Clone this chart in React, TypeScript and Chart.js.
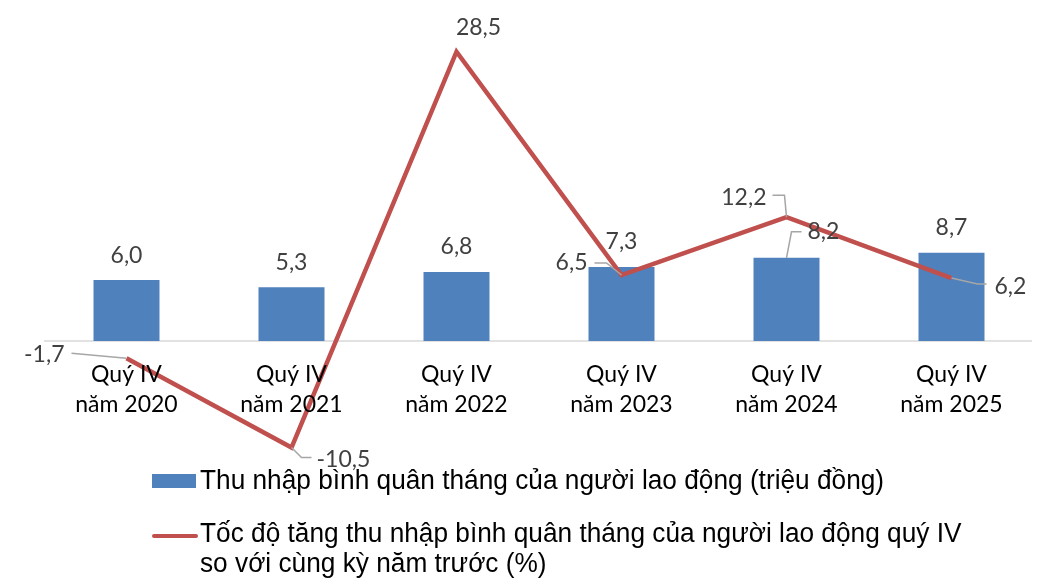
import { useEffect, useRef } from "react";
import { Chart, registerables } from "chart.js";

Chart.register(...registerables);

const categories: string[][] = [
  ["Quý IV", "năm 2020"],
  ["Quý IV", "năm 2021"],
  ["Quý IV", "năm 2022"],
  ["Quý IV", "năm 2023"],
  ["Quý IV", "năm 2024"],
  ["Quý IV", "năm 2025"],
];
const incomeValues = [6.0, 5.3, 6.8, 7.3, 8.2, 8.7];
const growthValues = [-1.7, -10.5, 28.5, 6.5, 12.2, 6.2];
const incomeLegend = "Thu nhập bình quân tháng của người lao động (triệu đồng)";
const growthLegend = [
  "Tốc độ tăng thu nhập bình quân tháng của người lao động quý IV",
  "so với cùng kỳ năm trước (%)",
];
const yMin = -12;
const yMax = 30;

const BAR_COLOR = "#4F81BD";
const LINE_COLOR = "#C0504D";
const LABEL_COLOR = "#404040";
const LEADER_COLOR = "#A6A6A6";
const LABEL_FONT = "23px Lato, Calibri, Carlito, sans-serif";
const CAT_FONT = "23px Lato, Calibri, Carlito, sans-serif";
const LEGEND_FONT = "27px 'Liberation Sans Narrow', 'Arial Narrow', 'Liberation Sans', Arial, sans-serif";
const LEGEND_SCALE_X = 0.972;

type Placement = {
  dx: number;
  dy: number;
  align: CanvasTextAlign;
  leader?: number[][];
};

// label placements relative to the point (offsets only)
const growthPlacements: Placement[] = [
  { dx: -62, dy: -4, align: "right", leader: [[0, 0], [-55, -5]] },
  { dx: 25, dy: 12, align: "left", leader: [[0, 0], [10, 10], [20, 10]] },
  { dx: 22, dy: -24, align: "center" },
  { dx: -34, dy: -12, align: "right", leader: [[0, 0], [-15, -12], [-27, -12]] },
  { dx: -20, dy: -20, align: "right", leader: [[0, 0], [-2, -22], [-14, -22]] },
  { dx: 43, dy: 9, align: "left", leader: [[0, 0], [26, 6], [35, 6]] },
];
const incomePlacements: Placement[] = [
  { dx: 0, dy: -25, align: "center" },
  { dx: 0, dy: -25, align: "center" },
  { dx: 0, dy: -25, align: "center" },
  { dx: 0, dy: -25, align: "center" },
  { dx: 21, dy: -26, align: "left", leader: [[0, 0], [5, -26], [15, -26]] },
  { dx: 0, dy: -25, align: "center" },
];

const fmt = (v: number) => v.toFixed(1).replace(".", ",");

const overlayPlugin = {
  id: "overlay",
  beforeDatasetsDraw(chart: any) {
    const { ctx, chartArea, scales } = chart;
    const y0 = scales.y.getPixelForValue(0);
    ctx.save();
    ctx.strokeStyle = "#D9D9D9";
    ctx.lineWidth = 1.5;
    ctx.beginPath();
    ctx.moveTo(chartArea.left, y0);
    ctx.lineTo(chartArea.right - 2, y0);
    ctx.stroke();
    ctx.restore();
  },
  afterDatasetsDraw(chart: any) {
    const { ctx, scales } = chart;
    const y0 = scales.y.getPixelForValue(0);
    ctx.save();
    // category labels
    ctx.fillStyle = "#000000";
    ctx.font = CAT_FONT;
    ctx.textAlign = "center";
    ctx.textBaseline = "middle";
    categories.forEach((lines, i) => {
      const x = scales.x.getPixelForValue(i);
      lines.forEach((t, j) => ctx.fillText(t, x, y0 + 34 + j * 30));
    });

    const drawLabels = (metaIndex: number, values: number[], places: Placement[]) => {
      const meta = chart.getDatasetMeta(metaIndex);
      meta.data.forEach((el: any, i: number) => {
        const p = places[i];
        const px = el.x;
        const py = el.y;
        if (p.leader) {
          ctx.strokeStyle = LEADER_COLOR;
          ctx.lineWidth = 1.5;
          ctx.beginPath();
          p.leader.forEach(([lx, ly], k) => {
            if (k === 0) ctx.moveTo(px + lx, py + ly);
            else ctx.lineTo(px + lx, py + ly);
          });
          ctx.stroke();
        }
        ctx.fillStyle = LABEL_COLOR;
        ctx.font = LABEL_FONT;
        ctx.textAlign = p.align;
        ctx.textBaseline = "middle";
        ctx.fillText(fmt(values[i]), px + p.dx, py + p.dy);
      });
    };
    drawLabels(0, incomeValues, incomePlacements);
    drawLabels(1, growthValues, growthPlacements);

    // legend
    ctx.fillStyle = BAR_COLOR;
    ctx.fillRect(152, 474, 44, 14);
    ctx.strokeStyle = LINE_COLOR;
    ctx.lineWidth = 4;
    ctx.lineCap = "round";
    ctx.beginPath();
    ctx.moveTo(154, 536);
    ctx.lineTo(196, 536);
    ctx.stroke();
    ctx.fillStyle = "#000000";
    ctx.font = LEGEND_FONT;
    ctx.textAlign = "left";
    ctx.textBaseline = "alphabetic";
    const legendText = (t: string, x: number, y: number) => {
      ctx.save();
      ctx.translate(x, y);
      ctx.scale(LEGEND_SCALE_X, 1);
      ctx.fillText(t, 0, 0);
      ctx.restore();
    };
    legendText(incomeLegend, 200, 489);
    legendText(growthLegend[0], 200, 542);
    legendText(growthLegend[1], 200, 572);
    ctx.restore();
  },
};

export default function App() {
  const ref = useRef<HTMLCanvasElement | null>(null);
  useEffect(() => {
    if (!ref.current) return;
    const chart = new Chart(ref.current, {
      type: "bar",
      data: {
        labels: categories.map((c) => c.join(" ")),
        datasets: [
          {
            type: "bar",
            label: incomeLegend,
            data: incomeValues,
            backgroundColor: BAR_COLOR,
            barPercentage: 1,
            categoryPercentage: 0.4,
            order: 2,
          },
          {
            type: "line",
            label: growthLegend.join(" "),
            data: growthValues,
            borderColor: LINE_COLOR,
            borderWidth: 4.5,
            pointRadius: 0,
            pointHoverRadius: 0,
            tension: 0,
            order: 1,
          },
        ],
      },
      options: {
        responsive: false,
        animation: false,
        events: [],
        layout: { padding: { left: 44, right: 16, top: 36.5, bottom: 123.2 } },
        plugins: { legend: { display: false }, tooltip: { enabled: false } },
        scales: {
          x: { display: false, offset: true },
          y: { display: false, min: yMin, max: yMax },
        },
      },
      plugins: [overlayPlugin],
    });
    return () => chart.destroy();
  }, []);
  return (
    <canvas
      ref={ref}
      width={1050}
      height={586}
      style={{ position: "fixed", left: 0, top: 0, width: 1050, height: 586, background: "#fff" }}
    />
  );
}
